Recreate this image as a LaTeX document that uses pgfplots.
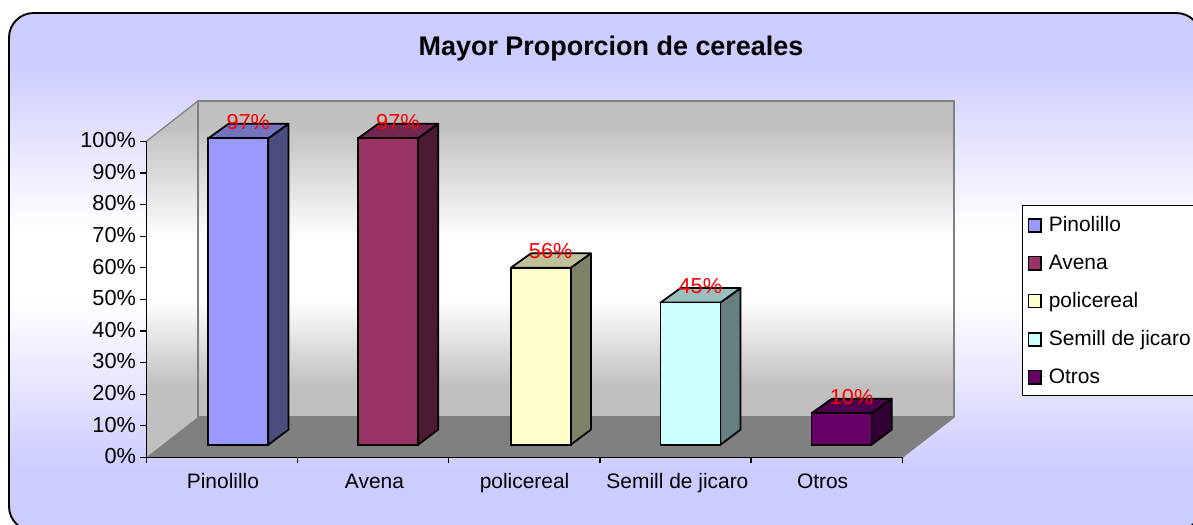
\documentclass[border=0pt]{standalone}
\usepackage{pgfplots}
\pgfplotsset{compat=1.18}
\usepackage{fontspec}
\setmainfont{Liberation Sans}
\definecolor{bgb}{HTML}{CCCCFF}
\definecolor{wallg}{HTML}{C0C0C0}
\definecolor{floorg}{HTML}{808080}
\definecolor{a1}{HTML}{9999FF}\definecolor{a2}{HTML}{7373BF}\definecolor{a3}{HTML}{4D4D80}
\definecolor{b1}{HTML}{993366}\definecolor{b2}{HTML}{732650}\definecolor{b3}{HTML}{4D1A33}
\definecolor{c1}{HTML}{FFFFCC}\definecolor{c2}{HTML}{BFBF99}\definecolor{c3}{HTML}{808066}
\definecolor{d1}{HTML}{CCFFFF}\definecolor{d2}{HTML}{99BFBF}\definecolor{d3}{HTML}{668080}
\definecolor{e1}{HTML}{660066}\definecolor{e2}{HTML}{4D004D}\definecolor{e3}{HTML}{330033}
\pgfdeclareverticalshading{bgshade}{100bp}{color(0bp)=(bgb); color(30.9bp)=(bgb); color(47.3bp)=(white); color(54bp)=(white); color(70.5bp)=(bgb); color(100bp)=(bgb)}
\pgfdeclareverticalshading{backshade}{100bp}{color(0bp)=(wallg); color(29.9bp)=(wallg); color(43.5bp)=(white); color(53bp)=(white); color(71.2bp)=(wallg); color(100bp)=(wallg)}
\pgfdeclareverticalshading{sideshade}{100bp}{color(0bp)=(wallg); color(35bp)=(wallg); color(47bp)=(white); color(55.5bp)=(white); color(71.6bp)=(wallg); color(100bp)=(wallg)}
\newcommand{\lab}{\fontsize{16.3}{18}\selectfont}
\newcommand{\catf}{\fontsize{15.7}{18}\selectfont}
\pgfplotsset{
  barf/.style={ybar, bar width=45pt, bar shift=0pt, draw=black, line width=1.3pt, fill=#1,
    nodes near coords={\pgfmathprintnumber{\pgfplotspointmeta}\%},
    nodes near coords style={font=\lab, text=red, anchor=base, inner sep=0pt, xshift=7.5pt, yshift=6.9pt},
    /pgf/number format/assume math mode=true},
  face/.style={forget plot, no markers, sharp plot, draw=black, line width=1.3pt, line join=round, fill=#1},
}
\begin{document}
\begin{tikzpicture}
\path[use as bounding box, clip] (0,0) rectangle (894.75pt,-393.75pt);
\begin{scope}[x=.75pt,y=-.75pt]
  \path[shading=bgshade] [rounded corners=18.5pt] (9,13) rectangle (1201,531);
  \draw[black, line width=1.4pt, rounded corners=18.5pt] (9,13) rectangle (1201,531);
  \path[shading=sideshade]
    (146.3,141.3) -- (198,101) -- (198,417) -- (146.3,457.3) -- cycle;
  \path[shading=backshade]
    (198,101) rectangle (954.3,417);
  \fill[floorg] (146.3,457.3) -- (198,417) -- (954.3,417) -- (902.3,457.3) -- cycle;
  \draw[floorg, line width=.9pt] (146.3,141.3) -- (198,101) (954.3,417) -- (902.3,457.3);
  \draw[floorg, line width=1.5pt] (198,417) -- (198,101) -- (954.3,101) -- (954.3,417);
  \draw[floorg, line width=1.2pt] (198,417) -- (954.3,417);
\end{scope}
% frame axis: the scale, ticks and category names
\begin{axis}[
  at={(109.725pt,-342.975pt)}, anchor=south west, scale only axis,
  width=567pt, height=237pt,
  xmin=0, xmax=5, ymin=0, ymax=100,
  axis lines=left, axis line style={-, black, line width=.9pt},
  tick align=outside, major tick length=4.5pt,
  ytick={0,10,...,100},
  yticklabel={\pgfmathprintnumber{\tick}\%},
  /pgf/number format/assume math mode=true,
  xtick={0.507,1.509,2.502,3.513,4.473},
  xticklabels={Pinolillo,Avena,policereal,Semill de jicaro,Otros},
  minor xtick={0,1,2,3,4,5},
  x tick style={draw=none},
  minor x tick style={draw=black, line width=.9pt},
  minor tick length=4.5pt,
  y tick style={black, line width=.9pt},
  tick label style={font=\lab},
  xticklabel style={font=\catf, yshift=-4pt, text height=11.5pt, text depth=3.5pt},
  yticklabel style={xshift=.3pt, yshift=.75pt},
  title={Mayor Proporcion de cereales},
  title style={font=\fontsize{20.2}{22}\selectfont\bfseries, at={(0.6147,1.2668)}, anchor=center},
]
\addplot[draw=none, forget plot] coordinates {(0,0)};
\end{axis}
% bars: true values on a scale moved by the chart's floor offset
\begin{axis}[
  at={(122.025pt,-333.6pt)}, anchor=south west, scale only axis,
  width=567pt, height=237pt,
  xmin=0, xmax=5, ymin=0, ymax=100, hide axis, clip=false,
  legend style={at={(1.137,0.758)}, anchor=north west, draw=black, line width=.8pt, fill=white,
    font=\catf, cells={anchor=west}, row sep=11.8pt, inner xsep=3pt, inner ysep=6pt,
    legend cell align=left},
  legend image code/.code={\path[draw=none] (0pt,0pt) -- (14.5pt,0pt);\draw[#1, line width=1pt, bar width=0pt] (1.1pt,-5.2pt) rectangle (10.7pt,4.6pt);},
]
\addplot[face=a3] coordinates {(0.698,0)(0.832,4.8)(0.832,101.6)(0.698,97)} --cycle;
\addplot[face=a2] coordinates {(0.302,97)(0.436,101.6)(0.832,101.6)(0.698,97)} --cycle;
\addplot[barf=a1] coordinates {(0.5,97)};
\addlegendentry{Pinolillo}
\addplot[face=b3] coordinates {(1.688,0)(1.822,4.8)(1.822,101.6)(1.688,97)} --cycle;
\addplot[face=b2] coordinates {(1.292,97)(1.426,101.6)(1.822,101.6)(1.688,97)} --cycle;
\addplot[barf=b1] coordinates {(1.49,97)};
\addlegendentry{Avena}
\addplot[face=c3] coordinates {(2.698,0)(2.832,4.8)(2.832,60.6)(2.698,56)} --cycle;
\addplot[face=c2] coordinates {(2.302,56)(2.436,60.6)(2.832,60.6)(2.698,56)} --cycle;
\addplot[barf=c1] coordinates {(2.5,56)};
\addlegendentry{policereal}
\addplot[face=d3] coordinates {(3.688,0)(3.822,4.8)(3.822,49.6)(3.688,45)} --cycle;
\addplot[face=d2] coordinates {(3.292,45)(3.426,49.6)(3.822,49.6)(3.688,45)} --cycle;
\addplot[barf=d1] coordinates {(3.49,45)};
\addlegendentry{Semill de jicaro}
\addplot[face=e3] coordinates {(4.688,0)(4.822,4.8)(4.822,14.6)(4.688,10)} --cycle;
\addplot[face=e2] coordinates {(4.292,10)(4.426,14.6)(4.822,14.6)(4.688,10)} --cycle;
\addplot[barf=e1] coordinates {(4.49,10)};
\addlegendentry{Otros}
\end{axis}
\end{tikzpicture}
\end{document}
